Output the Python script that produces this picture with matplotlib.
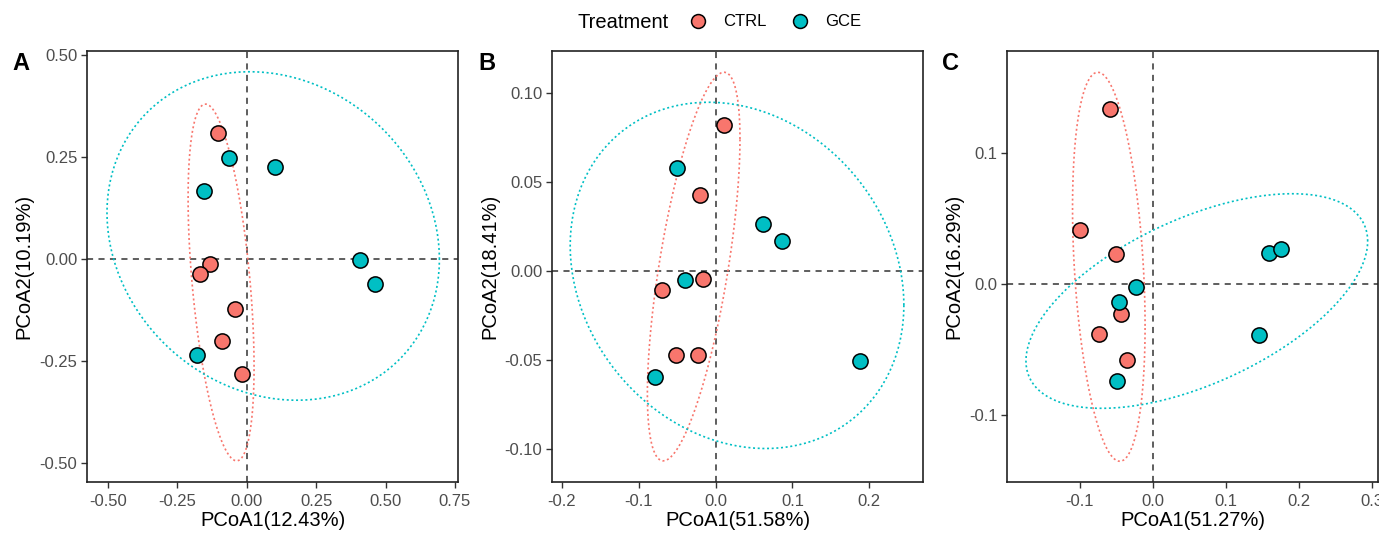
import numpy as np
import matplotlib
matplotlib.use("Agg")
import matplotlib.pyplot as plt
from matplotlib.lines import Line2D

plt.rcParams['font.family'] = ['Liberation Sans', 'DejaVu Sans']

# ---------------- data ----------------
groups = ["CTRL", "GCE"]
colors = {"CTRL": "#F8766D", "GCE": "#00BFC4"}

# Panel A
a_ctrl_x = [-0.102, -0.132, -0.169, -0.042, -0.090, -0.018]
a_ctrl_y = [0.309, -0.012, -0.038, -0.123, -0.200, -0.282]
a_gce_x = [-0.065, 0.103, -0.155, 0.408, 0.462, -0.180]
a_gce_y = [0.247, 0.225, 0.166, -0.003, -0.061, -0.236]

# Panel B
b_ctrl_x = [0.0109, -0.0209, -0.0697, -0.0170, -0.0519, -0.0227]
b_ctrl_y = [0.0821, 0.0428, -0.0105, -0.0047, -0.0473, -0.0473]
b_gce_x = [-0.0501, 0.0619, 0.0863, -0.0392, -0.0793, 0.1878]
b_gce_y = [0.0578, 0.0265, 0.0166, -0.0052, -0.0596, -0.0507]

# Panel C
c_ctrl_x = [-0.0584, -0.1000, -0.0507, -0.0443, -0.0731, -0.0352]
c_ctrl_y = [0.1334, 0.0407, 0.0226, -0.0229, -0.0386, -0.0579]
c_gce_x = [-0.0228, -0.0466, 0.1589, 0.1749, 0.1452, -0.0493]
c_gce_y = [-0.0023, -0.0137, 0.0236, 0.0262, -0.0389, -0.0742]

panel_labels = ["A", "B", "C"]
x_titles = ["PCoA1(12.43%)", "PCoA1(51.58%)", "PCoA1(51.27%)"]
y_titles = ["PCoA2(10.19%)", "PCoA2(18.41%)", "PCoA2(16.29%)"]
x_ticks = [[-0.50, -0.25, 0.00, 0.25, 0.50, 0.75],
           [-0.2, -0.1, 0.0, 0.1, 0.2],
           [-0.1, 0.0, 0.1, 0.2, 0.3]]
y_ticks = [[-0.50, -0.25, 0.00, 0.25, 0.50],
           [-0.10, -0.05, 0.00, 0.05, 0.10],
           [-0.1, 0.0, 0.1]]
x_fmt = ["{:.2f}", "{:.1f}", "{:.1f}"]
y_fmt = ["{:.2f}", "{:.2f}", "{:.1f}"]
x_lims = [(-0.575, 0.761), (-0.213, 0.270), (-0.1995, 0.3078)]
y_lims = [(-0.547, 0.510), (-0.1183, 0.1234), (-0.1512, 0.1774)]

ellipse_level = 0.8

panels = [
    {"CTRL": (a_ctrl_x, a_ctrl_y), "GCE": (a_gce_x, a_gce_y)},
    {"CTRL": (b_ctrl_x, b_ctrl_y), "GCE": (b_gce_x, b_gce_y)},
    {"CTRL": (c_ctrl_x, c_ctrl_y), "GCE": (c_gce_x, c_gce_y)},
]


# ------------- ggplot2 stat_ellipse (type = "norm") -------------
def stat_ellipse(xs, ys, level=0.95, segments=51):
    data = np.column_stack([xs, ys])
    n = len(xs)
    dfn, dfd = 2, n - 1
    center = data.mean(axis=0)
    shape = np.cov(data.T)
    chol = np.linalg.cholesky(shape).T  # upper triangular like R chol()
    fq = dfd / dfn * ((1 - level) ** (-dfn / dfd) - 1)  # qf(level, 2, dfd)
    radius = np.sqrt(dfn * fq)
    ang = np.linspace(0, 2 * np.pi, segments + 1)
    unit = np.column_stack([np.cos(ang), np.sin(ang)])
    ell = center + radius * (unit @ chol)
    return ell[:, 0], ell[:, 1]


# ---------------- figure ----------------
W, H = 1379, 535
fig = plt.figure(figsize=(W / 100, H / 100), dpi=100)

ax_left_px = [87, 552, 1007]
ax_w_px = 371
ax_top_px, ax_bot_px = 51, 482

for i in range(3):
    ax = fig.add_axes([ax_left_px[i] / W, (H - ax_bot_px) / H,
                       ax_w_px / W, (ax_bot_px - ax_top_px) / H])
    ax.axhline(0, color="#333333", lw=1.1, ls=(0, (4, 3.5)), zorder=1)
    ax.axvline(0, color="#333333", lw=1.1, ls=(0, (4, 3.5)), zorder=1)
    for g in groups:
        xs, ys = panels[i][g]
        ex, ey = stat_ellipse(xs, ys, level=ellipse_level, segments=120)
        ax.plot(ex, ey, color=colors[g], lw=1.2, ls=(0, (1.2, 1.6)), zorder=2)
    for g in groups:
        xs, ys = panels[i][g]
        ax.scatter(xs, ys, s=120, c=colors[g], edgecolors="black",
                   linewidths=1.1, zorder=3)
    ax.set_xlim(*x_lims[i])
    ax.set_ylim(*y_lims[i])
    ax.set_xticks(x_ticks[i])
    ax.set_yticks(y_ticks[i])
    ax.set_xticklabels([x_fmt[i].format(v) for v in x_ticks[i]])
    ax.set_yticklabels([y_fmt[i].format(v) for v in y_ticks[i]])
    ax.tick_params(colors="#333333", labelcolor="#4D4D4D", labelsize=12,
                   length=4, width=1)
    ax.tick_params(axis="x", pad=5)
    ax.tick_params(axis="y", pad=3)
    for sp in ax.spines.values():
        sp.set_color("#222222")
        sp.set_linewidth(1.2)
    ax.set_xlabel(x_titles[i], fontsize=14.5, color="black", labelpad=1)
    ax.set_ylabel(y_titles[i], fontsize=14.5, color="black", labelpad=4)

label_x_px = [12, 478, 942]
for i, lab in enumerate(panel_labels):
    fig.text(label_x_px[i] / W, 1 - 63 / H, lab, fontsize=17, fontweight="bold",
             ha="left", va="center")

# legend
fig.text(577 / W, 1 - 22 / H, "Treatment", fontsize=14.5, ha="left", va="center")
handles = [Line2D([], [], ls="none", marker="o", markersize=10,
                  markerfacecolor=colors[g], markeredgecolor="black",
                  markeredgewidth=1.1, label=g) for g in groups]
fig.legend(handles=handles, loc="center left", ncol=2,
           bbox_to_anchor=(688 / W, 1 - 22 / H), frameon=False,
           fontsize=12, handlelength=1.2, handletextpad=0.9,
           columnspacing=1.4, borderaxespad=0, borderpad=0)

fig.savefig("out.png", dpi=100)
